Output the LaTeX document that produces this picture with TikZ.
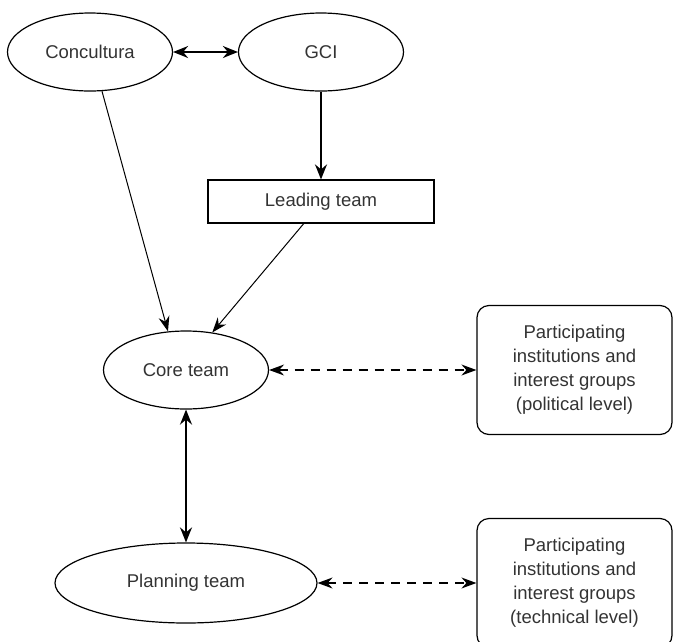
\documentclass[tikz,border=0pt]{standalone}
\usepackage{fontspec}
\setmainfont{Liberation Sans}
\usetikzlibrary{
    shapes.geometric,
    arrows.meta
}
\definecolor{txtgray}{HTML}{333333}

\begin{document}
\begin{tikzpicture}[x=1pt, y=-1pt,
    every node/.style={text=txtgray, font=\fontsize{18.5}{24}\selectfont},
    oval/.style={draw=black, ellipse, line width=1.2pt, inner sep=0pt,
        minimum width=165pt, minimum height=78pt},
    plainbox/.style={draw=black, rectangle, line width=1.2pt, inner sep=0pt,
        minimum width=226pt, minimum height=43pt},
    groupbox/.style={draw=black, rectangle, rounded corners=12pt, line width=1.2pt,
        inner sep=0pt, align=center, minimum width=195pt, minimum height=129pt},
    thinlink/.style={line width=1pt, -{Stealth[length=15pt, width=11pt, inset=5pt]}},
    thicklink/.style={line width=2pt, {Stealth[length=15pt, width=12pt, inset=5pt]}-{Stealth[length=15pt, width=12pt, inset=5pt]}},
    downlink/.style={line width=2pt, -{Stealth[length=15pt, width=12pt, inset=5pt]}},
    dashlink/.style={line width=1.3pt, dash pattern=on 9pt off 7pt,
        {Stealth[length=15pt, width=11pt, inset=5pt]}-{Stealth[length=15pt, width=11pt, inset=5pt]}}
]
  \useasboundingbox (0,0) rectangle (673,641);

  % top level
  \node[oval] (Con) at (90,52) {Concultura};
  \node[oval] (GCI) at (321,52) {GCI};
  \node[plainbox] (Lead) at (321,201.5) {Leading team};

  % teams
  \node[oval] (Core) at (186,370) {Core team};
  \node[oval, minimum width=262pt, minimum height=80pt] (Plan) at (186,583) {Planning team};

  % participants
  \node[groupbox] (PolG) at (574.5,370) {Participating\\institutions and\\interest groups\\(political level)};
  \node[groupbox] (TecG) at (574.5,583) {Participating\\institutions and\\interest groups\\(technical level)};

  \draw[thicklink] (Con) -- (GCI);
  \draw[downlink] (GCI) -- (Lead);
  \draw[thinlink] (Con.287) -- (Core.115);
  \draw[thinlink] (Lead.232) -- (Core.55);
  \draw[thicklink] (Core) -- (Plan);
  %
  \draw[dashlink] (Core) -- (PolG);
  \draw[dashlink] (Plan) -- (TecG);
\end{tikzpicture}
\end{document}
